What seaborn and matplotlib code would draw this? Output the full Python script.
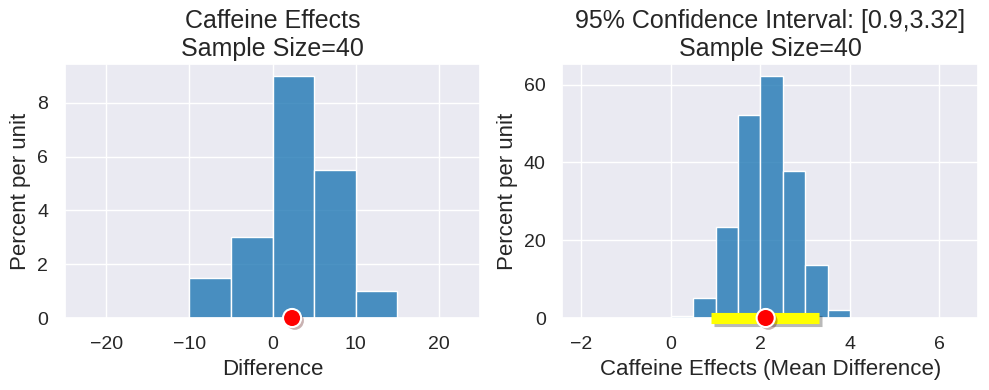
import numpy as np
import pandas as pd
import seaborn as sns
import matplotlib.pyplot as plt
import matplotlib.patheffects as pe

# left panel: sample histogram (percent per unit)
diff_edges = [-10, -5, 0, 5, 10, 15]
diff_heights = [1.5, 3.0, 9.0, 5.5, 1.0]
diff_mean = 2.35

# right panel: bootstrap mean differences
boot_edges = [0, 0.5, 1, 1.5, 2, 2.5, 3, 3.5, 4]
boot_heights = [0.5, 5.2, 23.5, 52.2, 62.2, 37.8, 13.6, 2.0]
boot_mean = 2.12
ci = [0.9, 3.32]
sample_size = 40

sns.set_theme(style="darkgrid")
plt.rcParams['font.family'] = ['Liberation Sans', 'DejaVu Sans']
plt.rcParams['xtick.major.pad'] = 7
plt.rcParams['ytick.major.pad'] = 6

fig, axes = plt.subplots(1, 2, figsize=(9.89, 3.9), dpi=100)


def draw_hist(ax, edges, heights):
    e = np.array(edges, dtype=float)
    df = pd.DataFrame({"x": (e[:-1] + e[1:]) / 2, "w": heights})
    sns.histplot(data=df, x="x", weights="w", bins=list(edges), ax=ax,
                 color="#1f77b4", alpha=0.8)


def red_dot(ax, x):
    ax.scatter([x], [0], s=170, color='red', edgecolor='white', linewidth=1.5,
               zorder=6, clip_on=False,
               path_effects=[pe.SimplePatchShadow(offset=(2, -2)), pe.Normal()])


ax = axes[0]
draw_hist(ax, diff_edges, diff_heights)
red_dot(ax, diff_mean)
ax.set_xlim(-25, 25)
ax.set_title(f"Caffeine Effects\nSample Size={sample_size}", fontsize=18)
ax.set_xlabel("Difference", fontsize=16)
ax.set_ylabel("Percent per unit", fontsize=16)

ax = axes[1]
draw_hist(ax, boot_edges, boot_heights)
ax.plot(ci, [0, 0], color='yellow', lw=8, solid_capstyle='butt', zorder=5,
        clip_on=False,
        path_effects=[pe.SimpleLineShadow(offset=(2, -2)), pe.Normal()])
red_dot(ax, boot_mean)
ax.set_xlim(-2.42, 6.86)
ax.set_title(f"95% Confidence Interval: [{ci[0]},{ci[1]}]\nSample Size={sample_size}",
             fontsize=18)
ax.set_xlabel("Caffeine Effects (Mean Difference)", fontsize=16)
ax.set_ylabel("Percent per unit", fontsize=16)

for a in axes:
    a.tick_params(labelsize=14)

fig.subplots_adjust(left=0.0654, right=0.9889, bottom=0.1846, top=0.836, wspace=0.197)
plt.savefig("out.png", dpi=100)
